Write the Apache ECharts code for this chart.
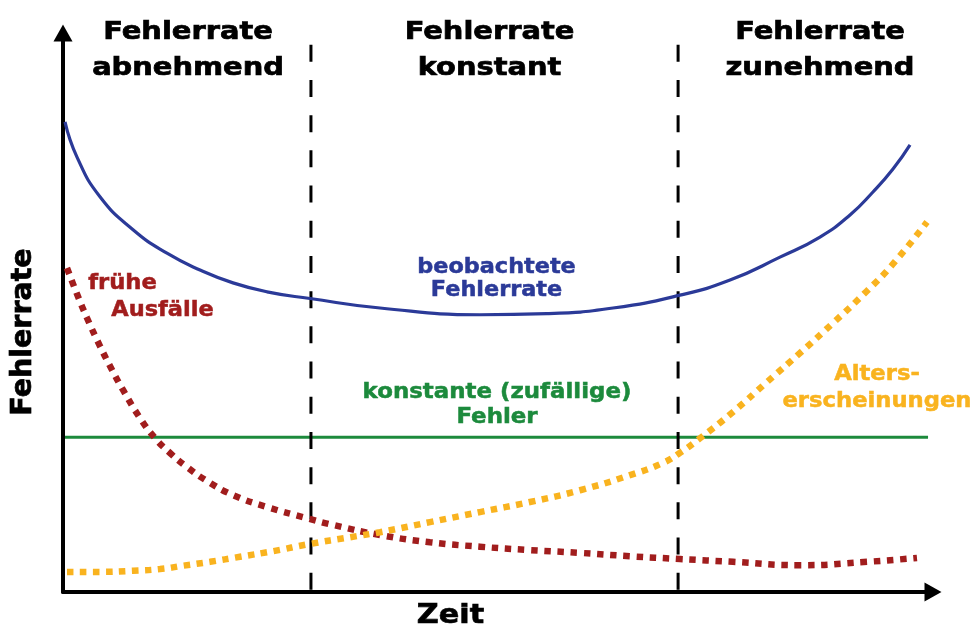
<!DOCTYPE html>
<html><head><meta charset="utf-8">
<script src="https://cdn.jsdelivr.net/npm/echarts@6/dist/echarts.min.js"></script>
<style>html,body{margin:0;padding:0;background:#fff}#c{width:974px;height:628px}</style>
</head><body><div id="c"></div>
<script>
// x: Zeit (0..100), y: Fehlerrate (0..100)
const observedRate = [[0.23,84.1],[1.61,77.8],[4.25,70.7],[8.05,64.8],[11.95,60.6],[15.75,57.6],[19.54,55.3],[23.45,53.7],[28.39,52.5],[36.44,50.8],[47.93,49.6],[55.63,49.8],[63.22,50.8],[70.92,53.1],[76.67,55.8],[82.41,59.9],[87.01,63.5],[90.46,67.44],[93.10,71.56],[95.40,75.67],[97.36,80.0]];
const earlyFailures = [[0.46,57.96],[1.61,53.31],[2.76,49.02],[4.25,44.0],[5.40,40.43],[6.90,36.14],[8.85,31.13],[10.57,27.55],[12.30,24.87],[14.25,22.36],[16.55,19.86],[19.54,17.35],[23.45,15.2],[28.05,13.2],[31.03,12.0],[36.44,10.2],[42.18,8.9],[47.93,8.1],[53.68,7.5],[59.43,7.0],[65.17,6.4],[70.92,5.9],[77.01,5.4],[84.71,4.8],[92.41,5.4],[98.16,6.1]];
const wearOut = [[0.46,3.6],[4.25,3.6],[8.05,3.8],[11.15,4.1],[13.79,4.7],[16.90,5.4],[20.34,6.3],[24.14,7.3],[28.39,8.6],[32.99,9.8],[36.44,10.7],[42.18,12.5],[47.93,14.3],[53.68,16.1],[59.43,18.2],[65.17,20.9],[68.97,23.1],[70.92,24.9],[73.22,27.5],[77.01,32.2],[80.92,37.57],[84.71,42.75],[88.51,48.12],[92.41,53.85],[95.40,58.68],[99.31,66.19]];
const randomFailures = [[0.23,27.7],[99.43,27.7]];
const phaseBoundaries = [28.5, 70.7];
const boundaryTop = 97.9;
const phaseTitles = ['Fehlerrate\nabnehmend','Fehlerrate\nkonstant','Fehlerrate\nzunehmend'];
const curveLabels = {
  observed: 'beobachtete\nFehlerrate',
  random: 'konstante (zufällige)\nFehler',
  early1: 'frühe', early2: 'Ausfälle',
  wear: 'Alters-\nerscheinungen'
};
const axisNames = {x:'Zeit', y:'Fehlerrate'};

const BLUE='#2b3a98', RED='#a11d1d', GREEN='#1c8a3c', ORANGE='#f9b31f';
const FONT='"DejaVu Sans", Verdana, sans-serif';

function txt(text, x, y, size, color, lh, sx, rot, sw) {
  return {type:'text', x:x, y:y, scaleX: sx||1, rotation: rot||0, z:100,
    style:{text:text, x:0, y:0, fill:color, stroke:color, lineWidth: sw||0.5, fontSize:size, fontWeight:'bold', fontFamily:FONT,
      align:'center', verticalAlign:'middle', textAlign:'center', textVerticalAlign:'middle', lineHeight:lh||size}};
}

const chart = echarts.init(document.getElementById('c'), null, {renderer:'canvas'});
const axisCommon = {type:'value', min:0, max:100, splitLine:{show:false}, axisTick:{show:false}, axisLabel:{show:false},
  axisLine:{show:true, symbol:['none','triangle'], symbolSize:[19,17], lineStyle:{color:'#000', width:4}}};
const curve = {type:'line', symbol:'none', smooth:0.5};
chart.setOption({
  animation:false,
  backgroundColor:'#fff',
  grid:{left:63, right:41, top:33, bottom:36},
  xAxis: Object.assign({}, axisCommon),
  yAxis: Object.assign({}, axisCommon),
  series:[
    {type:'line', data:randomFailures, symbol:'none', lineStyle:{color:GREEN, width:3}, z:2},
    {type:'line', data:[[phaseBoundaries[0],boundaryTop],[phaseBoundaries[0],0]], symbol:'none', lineStyle:{color:'#000', width:3, type:[17,18.2]}, z:3},
    {type:'line', data:[[phaseBoundaries[1],boundaryTop],[phaseBoundaries[1],0]], symbol:'none', lineStyle:{color:'#000', width:3, type:[17,18.2]}, z:3},
    Object.assign({}, curve, {data:observedRate, lineStyle:{color:BLUE, width:3.2}, z:4}),
    Object.assign({}, curve, {data:earlyFailures, lineStyle:{color:RED, width:6.5, type:[6.5,6.7], cap:'butt'}, z:5}),
    Object.assign({}, curve, {data:wearOut, lineStyle:{color:ORANGE, width:6.5, type:[6.5,6.5], cap:'butt'}, z:6})
  ],
  graphic:[
    txt(phaseTitles[0], 188, 50.2, 25, '#000', 36, 1.155, 0, 0.7),
    txt(phaseTitles[1], 489.5, 50.2, 25, '#000', 36, 1.155, 0, 0.7),
    txt(phaseTitles[2], 820, 50.2, 25, '#000', 36, 1.155, 0, 0.7),
    txt(curveLabels.observed, 496.5, 279, 21, BLUE, 23, 1.065),
    txt(curveLabels.random, 497, 405, 21, GREEN, 25, 1.09),
    txt(curveLabels.early1, 122.5, 283.6, 21, RED, 21, 1.08),
    txt(curveLabels.early2, 162.5, 310.6, 21, RED, 21, 1.07),
    txt(curveLabels.wear, 877, 388, 21, ORANGE, 27, 1.08),
    txt(axisNames.x, 450.5, 615.5, 27, '#000', 27, 1.12, 0, 0.7),
    txt(axisNames.y, 23.3, 332, 28.5, '#000', 28.5, 1, Math.PI/2, 0.7)
  ]
});
</script></body></html>
